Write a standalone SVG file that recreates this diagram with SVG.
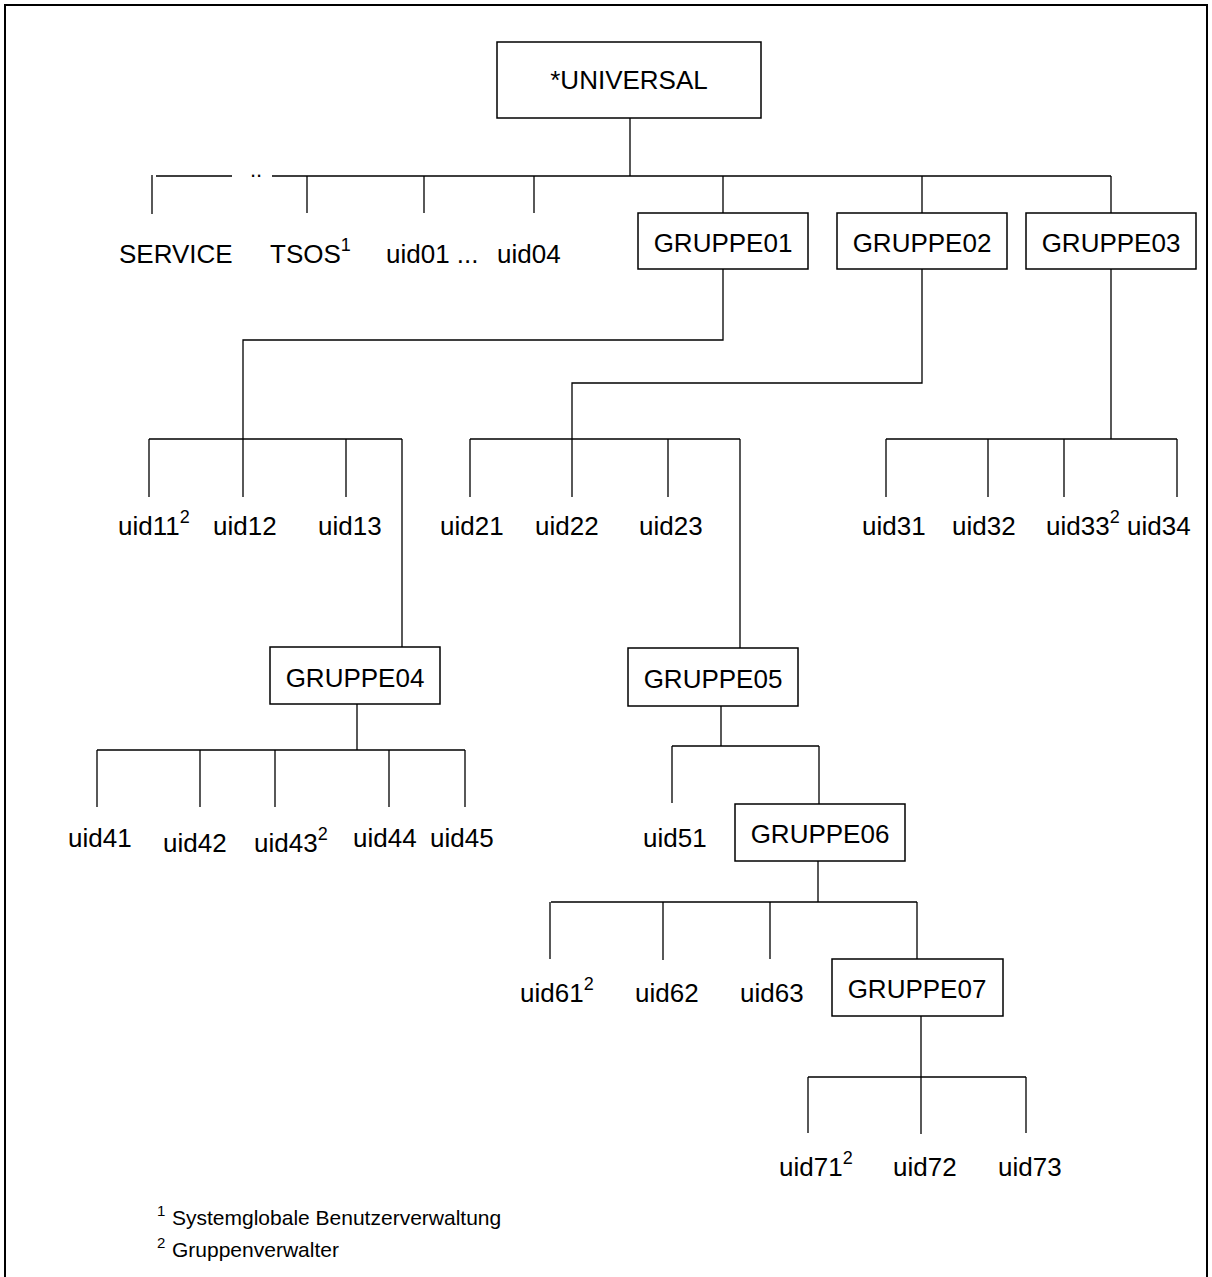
<svg xmlns="http://www.w3.org/2000/svg" width="1212" height="1277" viewBox="0 0 1212 1277">
  <style>
    .frame { fill: none; stroke: #000; stroke-width: 2; }
    .box { fill: #fff; stroke: #000; stroke-width: 1.5; }
    .wire { fill: none; stroke: #000; stroke-width: 1.3; }
    text { font-family: "Liberation Sans", Arial, sans-serif; fill: #000; }
    .lbl { font-size: 26px; }
    .ctr { text-anchor: middle; }
    .sup { font-size: 18px; }
    .note { font-size: 21px; }
    .nsup { font-size: 15px; }
  </style>

  <rect width="1212" height="1277" fill="#fff"/>
  <!-- outer frame, open at the bottom -->
  <path class="frame" d="M5 1277 V5 H1207 V1277"/>

  <g id="connectors">
    <!-- root level -->
    <path class="wire" d="M630 118 V176 M156 176 H232 M272 176 H1111
      M152 175 V214 M307 176 V213 M424 176 V213 M534 176 V213
      M723 176 V213 M922 176 V213 M1111 176 V213"/>
    <text class="lbl" x="250" y="177" style="font-size:22px">..</text>
    <!-- GRUPPE01 -->
    <path class="wire" d="M723 269 V340 H243 V439 M149 439 H402
      M149 439 V497 M243 439 V497 M346 439 V497 M402 439 V647"/>
    <!-- GRUPPE02 -->
    <path class="wire" d="M922 269 V383 H572 V439 M470 439 H740
      M470 439 V497 M572 439 V497 M668 439 V497 M740 439 V648"/>
    <!-- GRUPPE03 -->
    <path class="wire" d="M1111 269 V439 M886 439 H1177
      M886 439 V497 M988 439 V497 M1064 439 V497 M1177 439 V497"/>
    <!-- GRUPPE04 -->
    <path class="wire" d="M357 704 V750 M97 750 H465
      M97 750 V807 M200 750 V807 M275 750 V807 M389 750 V807 M465 750 V807"/>
    <!-- GRUPPE05 -->
    <path class="wire" d="M721 706 V746 M672 746 H819 M672 746 V803 M819 746 V804"/>
    <!-- GRUPPE06 -->
    <path class="wire" d="M818 861 V902 M551 902 H917
      M550 902 V959 M663 902 V960 M770 902 V959 M917 902 V959"/>
    <!-- GRUPPE07 -->
    <path class="wire" d="M921 1016 V1077 M808 1077 H1026
      M808 1077 V1133 M921 1077 V1134 M1026 1077 V1133"/>
  </g>

  <g id="universal">
    <rect class="box" x="497" y="42" width="264" height="76"/>
    <text class="lbl ctr" x="629" y="89">*UNIVERSAL</text>
  </g>

  <g id="service"><text class="lbl" x="119" y="263">SERVICE</text></g>
  <g id="tsos"><text class="lbl" x="270" y="263">TSOS<tspan class="sup" dy="-12">1</tspan></text></g>
  <g id="uid01"><text class="lbl" x="386" y="263">uid01 ...</text></g>
  <g id="uid04"><text class="lbl" x="497" y="263">uid04</text></g>

  <g id="gruppe01">
    <rect class="box" x="638" y="213" width="170" height="56"/>
    <text class="lbl ctr" x="723" y="252">GRUPPE01</text>
  </g>
  <g id="gruppe02">
    <rect class="box" x="837" y="213" width="170" height="56"/>
    <text class="lbl ctr" x="922" y="252">GRUPPE02</text>
  </g>
  <g id="gruppe03">
    <rect class="box" x="1026" y="213" width="170" height="56"/>
    <text class="lbl ctr" x="1111" y="252">GRUPPE03</text>
  </g>

  <g id="uid11"><text class="lbl" x="118" y="535">uid11<tspan class="sup" dy="-12">2</tspan></text></g>
  <g id="uid12"><text class="lbl" x="213" y="535">uid12</text></g>
  <g id="uid13"><text class="lbl" x="318" y="535">uid13</text></g>
  <g id="uid21"><text class="lbl" x="440" y="535">uid21</text></g>
  <g id="uid22"><text class="lbl" x="535" y="535">uid22</text></g>
  <g id="uid23"><text class="lbl" x="639" y="535">uid23</text></g>
  <g id="uid31"><text class="lbl" x="862" y="535">uid31</text></g>
  <g id="uid32"><text class="lbl" x="952" y="535">uid32</text></g>
  <g id="uid33"><text class="lbl" x="1046" y="535">uid33<tspan class="sup" dy="-12">2</tspan></text></g>
  <g id="uid34"><text class="lbl" x="1127" y="535">uid34</text></g>

  <g id="gruppe04">
    <rect class="box" x="270" y="647" width="170" height="57"/>
    <text class="lbl ctr" x="355" y="687">GRUPPE04</text>
  </g>
  <g id="gruppe05">
    <rect class="box" x="628" y="648" width="170" height="58"/>
    <text class="lbl ctr" x="713" y="688">GRUPPE05</text>
  </g>

  <g id="uid41"><text class="lbl" x="68" y="847">uid41</text></g>
  <g id="uid42"><text class="lbl" x="163" y="852">uid42</text></g>
  <g id="uid43"><text class="lbl" x="254" y="852">uid43<tspan class="sup" dy="-12">2</tspan></text></g>
  <g id="uid44"><text class="lbl" x="353" y="847">uid44</text></g>
  <g id="uid45"><text class="lbl" x="430" y="847">uid45</text></g>

  <g id="uid51"><text class="lbl" x="643" y="847">uid51</text></g>
  <g id="gruppe06">
    <rect class="box" x="735" y="804" width="170" height="57"/>
    <text class="lbl ctr" x="820" y="843">GRUPPE06</text>
  </g>

  <g id="uid61"><text class="lbl" x="520" y="1002">uid61<tspan class="sup" dy="-12">2</tspan></text></g>
  <g id="uid62"><text class="lbl" x="635" y="1002">uid62</text></g>
  <g id="uid63"><text class="lbl" x="740" y="1002">uid63</text></g>
  <g id="gruppe07">
    <rect class="box" x="832" y="959" width="171" height="57"/>
    <text class="lbl ctr" x="917" y="998">GRUPPE07</text>
  </g>

  <g id="uid71"><text class="lbl" x="779" y="1176">uid71<tspan class="sup" dy="-12">2</tspan></text></g>
  <g id="uid72"><text class="lbl" x="893" y="1176">uid72</text></g>
  <g id="uid73"><text class="lbl" x="998" y="1176">uid73</text></g>

  <g id="footnotes">
    <text class="note" x="157" y="1225"><tspan class="nsup" dy="-9">1</tspan><tspan x="172" dy="9">Systemglobale Benutzerverwaltung</tspan></text>
    <text class="note" x="157" y="1257"><tspan class="nsup" dy="-9">2</tspan><tspan x="172" dy="9">Gruppenverwalter</tspan></text>
  </g>
</svg>
